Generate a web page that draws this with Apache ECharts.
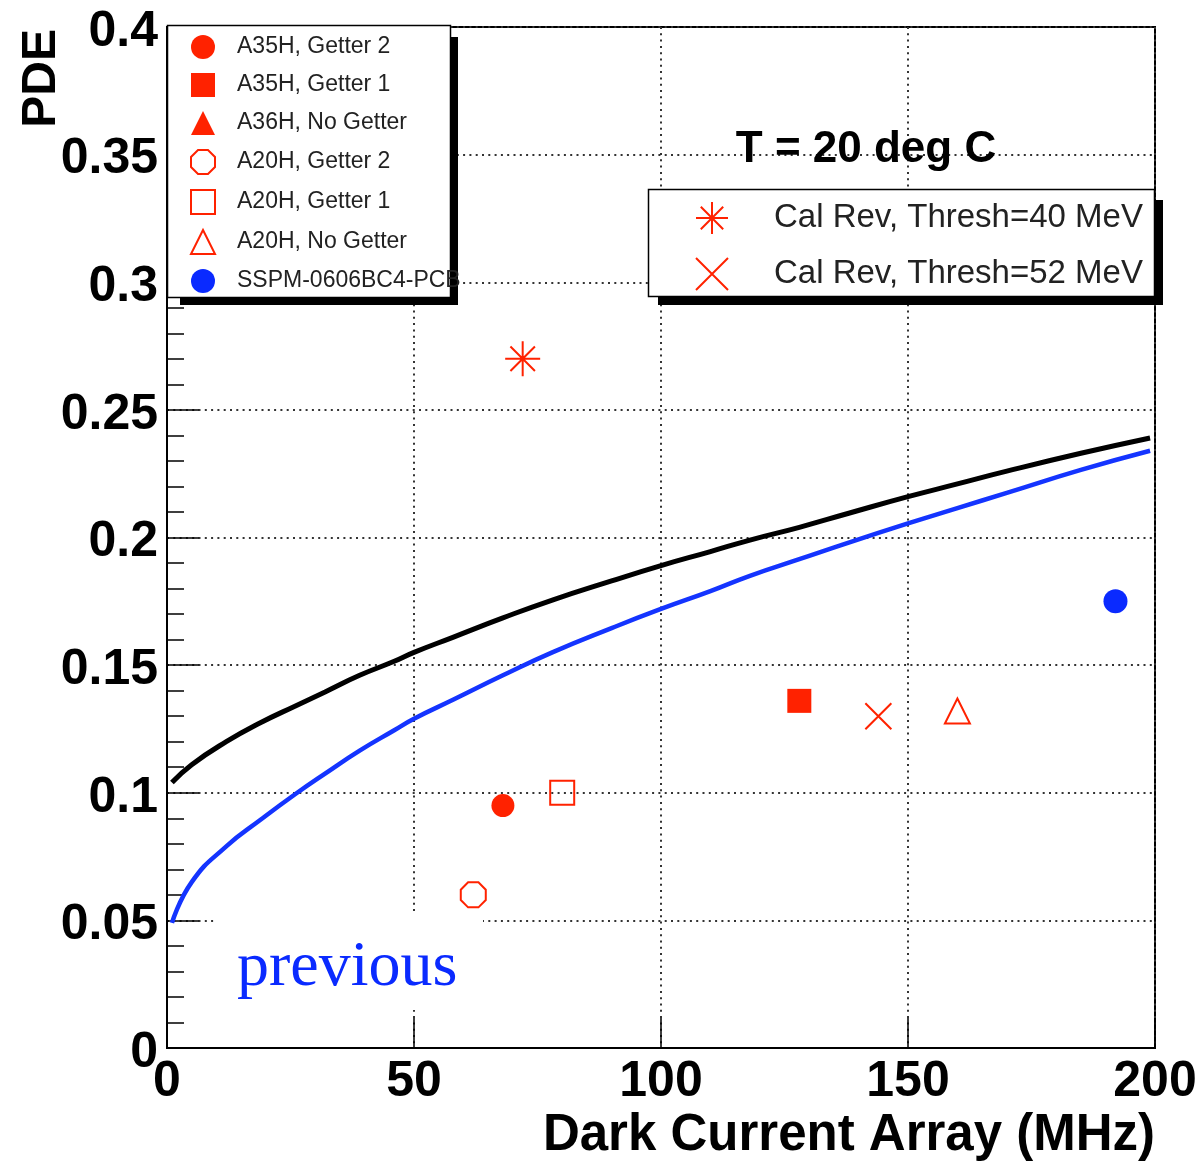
<!DOCTYPE html>
<html>
<head>
<meta charset="utf-8">
<script src="https://cdn.jsdelivr.net/npm/echarts@6/dist/echarts.min.js"></script>
<style>
  html, body { margin: 0; padding: 0; background: #fff; }
  #chart { width: 1203px; height: 1161px; }
</style>
</head>
<body>
<div id="chart"></div>
<script>
// ---------- data ----------
const xTicks = [0, 50, 100, 150, 200];
const yTicks = [0, 0.05, 0.1, 0.15, 0.2, 0.25, 0.3, 0.35, 0.4];

// curves: dark current (MHz) vs PDE
const curveX    = [1, 5, 12, 19, 26, 32, 39, 46, 50, 58, 68, 78, 90, 100, 110, 118, 128, 138, 150, 160, 170, 185, 199];
const pdeBlack  = [0.104, 0.111, 0.120, 0.1275, 0.134, 0.1395, 0.1460, 0.1515, 0.155, 0.161, 0.1685, 0.1755, 0.183, 0.189, 0.1945, 0.199, 0.204, 0.2095, 0.2160, 0.2210, 0.2260, 0.2330, 0.239];
const pdeBlue   = [0.049, 0.065, 0.079, 0.0895, 0.0995, 0.1075, 0.1165, 0.1245, 0.1290, 0.1365, 0.1460, 0.155, 0.1645, 0.1720, 0.1790, 0.185, 0.1915, 0.198, 0.2055, 0.2115, 0.2175, 0.2265, 0.234];

// measured devices  [dark current, PDE]
const a35hGetter2 = [[68, 0.095]];
const a35hGetter1 = [[128, 0.136]];
const a36hNoGetter = [];
const a20hGetter2 = [[62, 0.060]];
const a20hGetter1 = [[80, 0.100]];
const a20hNoGetter = [[160, 0.132]];
const sspm = [[192, 0.175]];
const calRev40 = [[72, 0.270]];
const calRev52 = [[144, 0.130]];

const legendA = ['A35H, Getter 2', 'A35H, Getter 1', 'A36H, No Getter', 'A20H, Getter 2', 'A20H, Getter 1', 'A20H, No Getter', 'SSPM-0606BC4-PCB'];
const legendB = ['Cal Rev, Thresh=40 MeV', 'Cal Rev, Thresh=52 MeV'];

// ---------- styles ----------
const RED = '#ff2200';
const BLUE = '#0a2aff';
const FONT = '"Liberation Sans", Arial, sans-serif';
const NONE = 'rgba(0,0,0,0)';
const OCTAGON = 'path://M-0.414,-1L0.414,-1L1,-0.414L1,0.414L0.414,1L-0.414,1L-1,0.414L-1,-0.414Z';
const STAR = 'path://M0,-1L0,1M-1,0L1,0M-0.7,-0.7L0.7,0.7M-0.7,0.7L0.7,-0.7';
const CROSS = 'path://M-1,-1L1,1M-1,1L1,-1';

const chart = echarts.init(document.getElementById('chart'), null, { renderer: 'canvas' });

function scat(name, data, symbol, size, filled, color) {
  return {
    type: 'scatter', name: name, data: data, symbol: symbol, symbolSize: size, z: 3,
    itemStyle: filled
      ? { color: color, borderColor: color, borderWidth: 0, opacity: 1 }
      : { color: NONE, borderColor: color, borderWidth: 2, opacity: 1 },
    emphasis: { disabled: true }
  };
}

const gridDots = { type: [2, 4.3], color: '#333', width: 2 };

const option = {
  animation: false,
  backgroundColor: '#fff',
  textStyle: { fontFamily: FONT },
  grid: { left: 167, top: 27, right: 48, bottom: 113, show: true, borderColor: '#000', borderWidth: 2, backgroundColor: NONE },
  xAxis: {
    type: 'value', min: xTicks[0], max: xTicks[xTicks.length - 1], interval: 50,
    axisLine: { lineStyle: { color: '#000', width: 2 } },
    axisTick: { inside: true, length: 30, lineStyle: { color: '#000', width: 1.5 } },
    axisLabel: { fontSize: 50, fontWeight: 'bold', color: '#000', margin: 9, fontFamily: FONT },
    splitLine: { show: true, lineStyle: gridDots },
    name: 'Dark Current Array (MHz)', nameLocation: 'end', nameGap: 0,
    nameTextStyle: { fontSize: 51, fontWeight: 'bold', color: '#000', align: 'right', verticalAlign: 'top', padding: [62, 0, 0, 0], fontFamily: FONT }
  },
  yAxis: {
    type: 'value', min: yTicks[0], max: yTicks[yTicks.length - 1], interval: 0.05,
    axisLine: { lineStyle: { color: '#000', width: 2 } },
    axisTick: { inside: true, length: 32, lineStyle: { color: '#000', width: 1.5 } },
    minorTick: { show: true, splitNumber: 5, length: 17, lineStyle: { color: '#000', width: 1.5 } },
    axisLabel: { fontSize: 50, fontWeight: 'bold', color: '#000', margin: 9, verticalAlign: 'top', lineHeight: 10, fontFamily: FONT },
    splitLine: { show: true, lineStyle: gridDots }
  },
  legend: [
    {
      data: legendA, orient: 'vertical', left: 190, top: 35, padding: 0,
      itemWidth: 24, itemHeight: 24, itemGap: 14, selectedMode: false,
      textStyle: { fontSize: 23, color: '#222', fontFamily: FONT, padding: [0, 0, 0, 17] }
    },
    {
      data: legendB, orient: 'vertical', left: 695, top: 201, padding: 0,
      itemWidth: 32, itemHeight: 32, itemGap: 22, selectedMode: false,
      textStyle: { fontSize: 33, color: '#222', fontFamily: FONT, padding: [0, 0, 0, 41] }
    }
  ],
  graphic: { elements: [
    // legend boxes with shadows
    { type: 'rect', z: 3, shape: { x: 451, y: 37, width: 7, height: 268 }, style: { fill: '#000' } },
    { type: 'rect', z: 3, shape: { x: 180, y: 298, width: 278, height: 7 }, style: { fill: '#000' } },
    { type: 'rect', z: 3, shape: { x: 167.5, y: 25.5, width: 283, height: 272 }, style: { fill: '#fff', stroke: '#000', lineWidth: 1.5 } },
    { type: 'rect', z: 3, shape: { x: 1155, y: 200, width: 8, height: 105 }, style: { fill: '#000' } },
    { type: 'rect', z: 3, shape: { x: 658, y: 297, width: 505, height: 8 }, style: { fill: '#000' } },
    { type: 'rect', z: 3, shape: { x: 648.5, y: 189.5, width: 506, height: 107 }, style: { fill: '#fff', stroke: '#000', lineWidth: 1.5 } },
    // white pad behind "previous"
    { type: 'rect', z: 1, shape: { x: 215, y: 915, width: 268, height: 95 }, style: { fill: '#fff' } },
    { type: 'text', z: 5, x: 237, y: 968, style: { text: 'previous', fontSize: 64, fontFamily: '"Liberation Serif", "Times New Roman", serif', fill: BLUE, align: 'left', verticalAlign: 'middle' } },
    { type: 'text', z: 5, x: 866, y: 150, style: { text: 'T = 20 deg C', fontSize: 44, fontWeight: 'bold', fontFamily: FONT, fill: '#000', align: 'center', verticalAlign: 'middle' } },
    { type: 'text', z: 5, x: 66, y: 29, rotation: Math.PI / 2, style: { text: 'PDE', fontSize: 48, fontWeight: 'bold', fontFamily: FONT, fill: '#000', align: 'right', verticalAlign: 'bottom' } }
  ] },
  series: [
    { type: 'line', name: 'curve black', data: curveX.map((x, i) => [x, pdeBlack[i]]), showSymbol: false, smooth: 0.5, z: 2,
      lineStyle: { color: '#000', width: 5 }, emphasis: { disabled: true } },
    { type: 'line', name: 'curve blue', data: curveX.map((x, i) => [x, pdeBlue[i]]), showSymbol: false, smooth: 0.5, z: 2,
      lineStyle: { color: '#1434ff', width: 4.5 }, emphasis: { disabled: true } },
    scat(legendA[0], a35hGetter2, 'circle', 23, true, RED),
    scat(legendA[1], a35hGetter1, 'rect', 24, true, RED),
    scat(legendA[2], a36hNoGetter, 'triangle', 24, true, RED),
    scat(legendA[3], a20hGetter2, OCTAGON, 25, false, RED),
    scat(legendA[4], a20hGetter1, 'rect', 24, false, RED),
    scat(legendA[5], a20hNoGetter, 'triangle', 25, false, RED),
    scat(legendA[6], sspm, 'circle', 24, true, BLUE),
    scat(legendB[0], calRev40, STAR, 35, false, RED),
    scat(legendB[1], calRev52, CROSS, 26, false, RED)
  ]
};
chart.setOption(option);
</script>
</body>
</html>
